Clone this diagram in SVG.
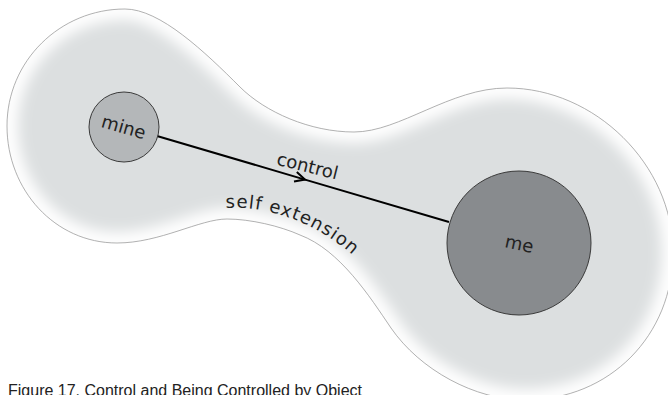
<svg xmlns="http://www.w3.org/2000/svg" xmlns:xlink="http://www.w3.org/1999/xlink" width="668" height="395" viewBox="0 0 668 395">
  <style>
    .lbl { font-family: "DejaVu Sans", "Liberation Sans", sans-serif; font-size: 18px; fill: #222; }
    .cap { font-family: "Liberation Sans", Arial, sans-serif; font-size: 16px; fill: #222; }
    .node { stroke: #3a3a3a; stroke-width: 1; }
    .edge { stroke: #000; stroke-width: 2; fill: none; }
  </style>
  <defs>
    <path id="blobPath" d="M 7,126 C 7,61 60,9 125,9 C 160,9 205,52 240,87 C 265,112 310,132 354,132 C 400,132 450,88 507,88 C 595,88 673,165 673,252 C 673,335 610,400 525,400 C 475,400 420,370 391,328 C 370,297 340,250 300,235 C 280,226 250,219 227,219 C 200,219 160,243 117,243 C 55,243 7,190 7,126 Z"/>
    <clipPath id="blobClip"><use xlink:href="#blobPath"/></clipPath>
    <filter id="glow" x="-10%" y="-10%" width="120%" height="120%">
      <feGaussianBlur stdDeviation="7"/>
    </filter>
    <path id="extCurve" d="M 226,208 C 262,205 320,220 364,266"/>
    <marker id="chev" markerUnits="userSpaceOnUse" markerWidth="24" markerHeight="24" viewBox="-12 -12 24 24" refX="0" refY="0" orient="auto">
      <path d="M -10,-5 L 0,0 L -10,5" fill="none" stroke="#000" stroke-width="2"/>
    </marker>
  </defs>
  <rect width="668" height="395" fill="#ffffff"/>
  <g id="self-extension">
    <use xlink:href="#blobPath" fill="#dcdfe0"/>
    <g clip-path="url(#blobClip)">
      <use xlink:href="#blobPath" fill="none" stroke="#ffffff" stroke-width="22" filter="url(#glow)"/>
    </g>
    <use xlink:href="#blobPath" fill="none" stroke="#a0a0a0" stroke-width="0.8"/>
    <text class="lbl" letter-spacing="1"><textPath xlink:href="#extCurve">self extension</textPath></text>
  </g>
  <g id="connectors">
    <path class="edge" d="M 157,136 L 305,179.6 L 449,222" marker-mid="url(#chev)"/>
    <text class="lbl" x="306" y="172" text-anchor="middle" transform="rotate(14 306 172)">control</text>
  </g>
  <g id="node-mine">
    <circle class="node" cx="124" cy="127" r="35" fill="#b4b7b9"/>
    <text class="lbl" x="122" y="133" text-anchor="middle" transform="rotate(16 122 133)">mine</text>
  </g>
  <g id="node-me">
    <circle class="node" cx="519" cy="243" r="72" fill="#888b8e"/>
    <text class="lbl" x="518" y="250" text-anchor="middle" transform="rotate(12 518 250)">me</text>
  </g>
  <text class="cap" x="8" y="396">Figure 17. Control and Being Controlled by Object</text>
</svg>
